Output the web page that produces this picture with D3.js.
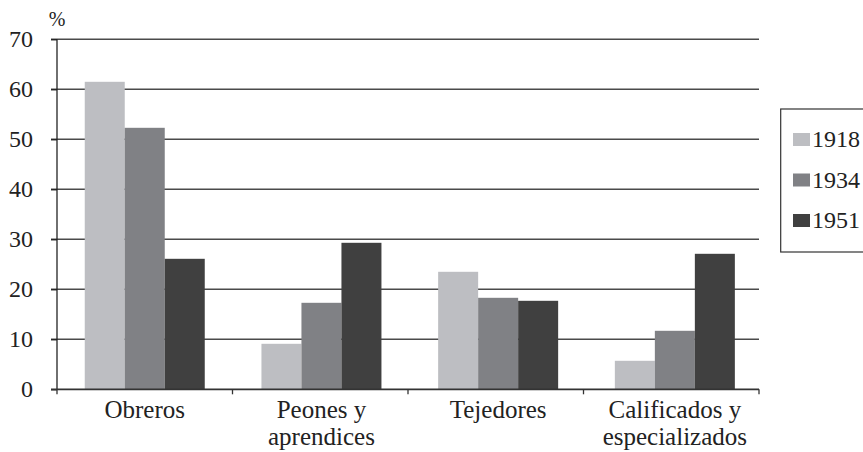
<!DOCTYPE html>
<html>
<head>
<meta charset="utf-8">
<script src="https://cdn.jsdelivr.net/npm/d3@7"></script>
</head>
<body style="margin:0;background:#fff">
<svg id="chart" width="863" height="452" style="display:block" font-family="Liberation Serif"></svg>
<script>
const categories = [["Obreros"], ["Peones y", "aprendices"], ["Tejedores"], ["Calificados y", "especializados"]];
const seriesNames = ["1918", "1934", "1951"];
const values1918 = [61.5, 9.1, 23.5, 5.7];
const values1934 = [52.3, 17.3, 18.3, 11.7];
const values1951 = [26.1, 29.3, 17.7, 27.1];
const yTicks = [0, 10, 20, 30, 40, 50, 60, 70];
const colors = ["#bdbec2", "#808185", "#404040"];

const series = [values1918, values1934, values1951];
const svg = d3.select("#chart");
const pLeft = 57, pRight = 759, pTop = 39.3, pBottom = 389.3;
const FONT = "Liberation Serif";
const TXT = "#222";

function serif(sel, size) {
  sel.attr("font-family", FONT).attr("font-size", size)
     .style("font-family", FONT);
  return sel;
}

const x = d3.scaleBand().domain(d3.range(categories.length)).range([pLeft, pRight]);
const xs = d3.scaleBand().domain(d3.range(seriesNames.length)).range([0, 120]);
const y = d3.scaleLinear().domain([0, 70]).range([pBottom, pTop]);

// gridlines
svg.append("g").selectAll("line").data(yTicks.filter(d => d > 0)).join("line")
  .attr("x1", pLeft - 6).attr("x2", pRight)
  .attr("y1", d => y(d)).attr("y2", d => y(d))
  .attr("stroke", "#4a4a4a").attr("stroke-width", 1.5);

// bars
const groups = svg.append("g").selectAll("g").data(categories.map((c, i) => i)).join("g")
  .attr("transform", i => `translate(${x(i) + x.bandwidth() / 2 - 60 + i * 1.2},0)`);
groups.selectAll("rect").data(i => series.map((s, k) => ({ k, v: s[i] }))).join("rect")
  .attr("x", d => xs(d.k)).attr("width", xs.bandwidth())
  .attr("y", d => y(d.v)).attr("height", d => y(0) - y(d.v))
  .attr("fill", d => colors[d.k]);

// y axis
const yAxis = d3.axisLeft(y).tickValues(yTicks).tickSize(6).tickPadding(18);
const ya = svg.append("g").attr("transform", `translate(${pLeft},0)`).call(yAxis);
ya.attr("font-family", FONT).attr("font-size", 24);
ya.select(".domain").attr("stroke", "#222").attr("stroke-width", 1.3).attr("d", `M0,${pTop}V${pBottom}`);
ya.selectAll(".tick line").attr("stroke", "#222").attr("stroke-width", 1.3);
serif(ya.selectAll(".tick text"), 24).attr("fill", TXT).attr("dy", "0.32em");

// x axis
const xa = svg.append("g");
xa.append("line").attr("x1", pLeft - 6).attr("x2", pRight).attr("y1", pBottom).attr("y2", pBottom)
  .attr("stroke", "#333").attr("stroke-width", 1.8);
xa.selectAll("line.tk").data(d3.range(categories.length + 1)).join("line").attr("class", "tk")
  .attr("x1", i => i < categories.length ? x(i) : pRight).attr("x2", i => i < categories.length ? x(i) : pRight)
  .attr("y1", pBottom).attr("y2", pBottom + 5).attr("stroke", "#333").attr("stroke-width", 1.3);
categories.forEach((lines, i) => {
  lines.forEach((line, j) => {
    serif(xa.append("text"), 25)
      .attr("text-anchor", "middle").attr("fill", TXT)
      .attr("x", x(i) + x.bandwidth() / 2 + i * 1.2)
      .attr("y", 418 + j * 27)
      .text(line);
  });
});

// % label
serif(svg.append("text"), 20).attr("x", 57).attr("y", 26).attr("text-anchor", "middle")
  .attr("fill", TXT).text("%");

// legend
const lg = svg.append("g");
lg.append("rect").attr("x", 780.7).attr("y", 109).attr("width", 100).attr("height", 143)
  .attr("fill", "#fff").attr("stroke", "#333").attr("stroke-width", 1.2);
const li = lg.selectAll("g").data(seriesNames).join("g")
  .attr("transform", (d, i) => `translate(793,${139 + i * 40.5})`);
li.append("rect").attr("x", 0).attr("y", -6).attr("width", 17).attr("height", 13).attr("fill", (d, i) => colors[i]);
serif(li.append("text"), 24).attr("x", 19).attr("y", 0).attr("dy", "0.34em")
  .attr("fill", TXT).text(d => d);
</script>
</body>
</html>
